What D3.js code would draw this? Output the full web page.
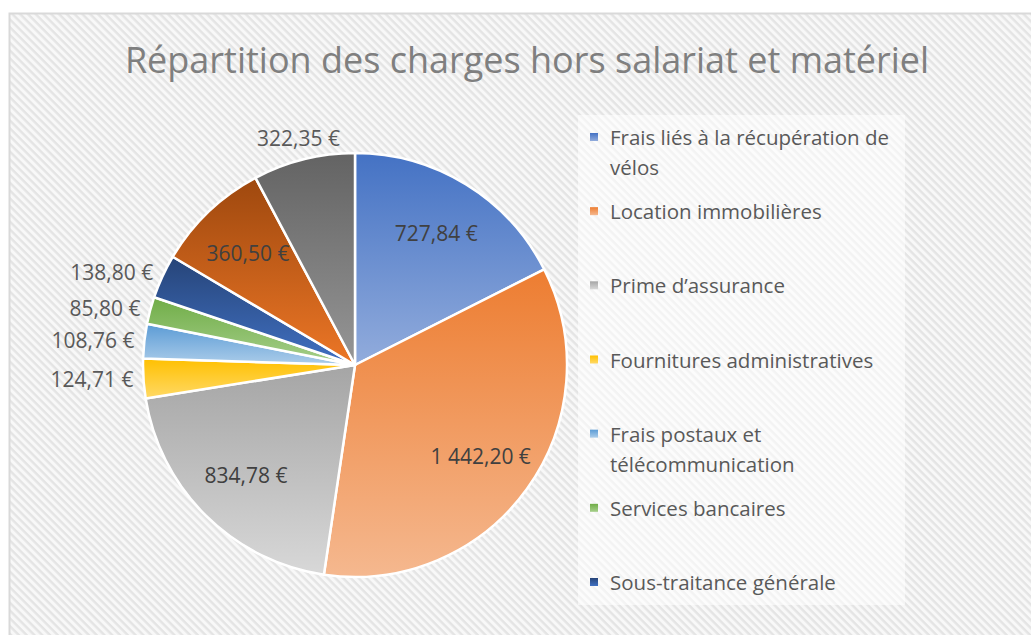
<!DOCTYPE html>
<html>
<head>
<meta charset="utf-8">
<script src="https://cdn.jsdelivr.net/npm/d3@7"></script>
<style>
  body { margin: 0; background: #fff; }
  text { font-family: "Open Sans", sans-serif; }
</style>
</head>
<body>
<div id="pieChart"></div>
<script>
// chart data
var categories = [
  "Frais liés à la récupération de vélos",
  "Location immobilières",
  "Prime d’assurance",
  "Fournitures administratives",
  "Frais postaux et télécommunication",
  "Services bancaires",
  "Sous-traitance générale",
  "Catégorie 8",
  "Catégorie 9"
];
var values = [727.84, 1442.20, 834.78, 124.71, 108.76, 85.80, 138.80, 360.50, 322.35];
var colors = ["#4472C4", "#ED7D31", "#A5A5A5", "#FFC000", "#5B9BD5", "#70AD47", "#264478", "#9E480E", "#636363"];
var title = "Répartition des charges hors salariat et matériel";

function pieChart(){
  var width = 1031,
      height = 635,
      radius = 212;
  var cx = 355, cy = 365;

  var svg = d3.select("#pieChart")
              .append("svg")
              .attr("width", width)
              .attr("height", height);

  var defs = svg.append("defs");

  // diagonal hatch background
  var hatch = defs.append("pattern")
                  .attr("id", "hatch")
                  .attr("patternUnits", "userSpaceOnUse")
                  .attr("width", 5.5)
                  .attr("height", 5.5)
                  .attr("patternTransform", "rotate(45)");
  hatch.append("rect").attr("width", 5.5).attr("height", 5.5).attr("fill", "#f8f8f8");
  hatch.append("rect").attr("width", 5.5).attr("height", 2.4).attr("fill", "#e4e4e4");

  // one vertical gradient per slice (dark at top, lighter at bottom)
  colors.forEach(function(c, i) {
    var light = d3.hsl(c);
    light.l = Math.min(0.9, light.l + 0.2);
    var g = defs.append("linearGradient")
                .attr("id", "grad" + i)
                .attr("x1", 0).attr("y1", 0)
                .attr("x2", 0).attr("y2", 1);
    g.append("stop").attr("offset", "0%").attr("stop-color", c);
    g.append("stop").attr("offset", "100%").attr("stop-color", light.formatHex());
  });

  // chart area frame
  svg.append("rect")
     .attr("x", 9.5).attr("y", 13.5)
     .attr("width", width).attr("height", height)
     .attr("fill", "url(#hatch)")
     .attr("stroke", "#d9d9d9")
     .attr("stroke-width", 2);

  svg.append("text")
     .attr("x", 527)
     .attr("y", 73)
     .attr("text-anchor", "middle")
     .attr("font-size", 36)
     .attr("fill", "#7f7f7f")
     .text(title);

  var fr = d3.formatLocale({decimal: ",", thousands: "\u00a0", grouping: [3], currency: ["", "\u00a0€"]});
  var money = fr.format("$,.2f");

  var total = d3.sum(values);
  var pie = d3.pie().sort(null).value(function(d) { return d; });
  var arcs = pie(values);

  var arc = d3.arc().innerRadius(0).outerRadius(radius);
  var inLabel = d3.arc().innerRadius(155).outerRadius(155);
  var outLabel = d3.arc().innerRadius(222).outerRadius(222);
  var topLabel = d3.arc().innerRadius(234).outerRadius(234);

  var g = svg.append("g").attr("transform", "translate(" + cx + "," + cy + ")");

  g.selectAll("path.slice")
   .data(arcs)
   .enter().append("path")
   .attr("class", "slice")
   .attr("d", arc)
   .attr("fill", function(d, i) { return "url(#grad" + i + ")"; })
   .attr("stroke", "#fff")
   .attr("stroke-width", 2.5)
   .attr("stroke-linejoin", "round");

  // data labels: inside for big slices, outside for small ones
  g.selectAll("text.lbl")
   .data(arcs)
   .enter().append("text")
   .attr("class", "lbl")
   .attr("font-size", 21)
   .attr("dominant-baseline", "central")
   .each(function(d) {
     var mid = (d.startAngle + d.endAngle) / 2;
     var inside = d.value / total >= 0.08;
     var t = d3.select(this).text(money(d.value));
     if (inside) {
       var p = inLabel.centroid(d);
       t.attr("x", p[0]).attr("y", p[1]).attr("text-anchor", "middle").attr("fill", "#404040");
     } else if (Math.abs(Math.sin(mid)) > 0.5) {
       var q = outLabel.centroid(d);
       t.attr("x", q[0]).attr("y", q[1]).attr("text-anchor", Math.sin(mid) < 0 ? "end" : "start").attr("fill", "#595959");
     } else {
       var r = topLabel.centroid(d);
       t.attr("x", r[0]).attr("y", r[1]).attr("text-anchor", "middle").attr("fill", "#595959");
     }
   });

  // legend
  var legend = svg.append("g");
  legend.append("rect")
        .attr("x", 578).attr("y", 115)
        .attr("width", 327).attr("height", 490)
        .attr("fill", "#fff")
        .attr("fill-opacity", 0.55);

  var shown = 7; // legend box only has room for 7 entries
  var ly = d3.scaleLinear().domain([0, shown - 1]).range([137, 582]);
  var wrapWidth = 292;

  categories.slice(0, shown).forEach(function(name, i) {
    var y = ly(i);
    legend.append("rect")
          .attr("x", 590).attr("y", y - 4)
          .attr("width", 8).attr("height", 8)
          .attr("fill", "url(#grad" + i + ")");
    var t = legend.append("text")
                  .attr("x", 610).attr("y", y)
                  .attr("font-size", 20.5)
                  .attr("fill", "#595959")
                  .attr("dominant-baseline", "central");
    // simple word wrap
    var words = name.split(" "), line = [], lineNo = 0;
    var span = t.append("tspan").attr("x", 610).attr("y", y);
    words.forEach(function(w) {
      line.push(w);
      span.text(line.join(" "));
      if (span.node().getComputedTextLength() > wrapWidth && line.length > 1) {
        line.pop();
        span.text(line.join(" "));
        line = [w];
        lineNo++;
        span = t.append("tspan").attr("x", 610).attr("y", y + lineNo * 30).text(w);
      }
    });
  });
}

pieChart();
</script>
</body>
</html>
